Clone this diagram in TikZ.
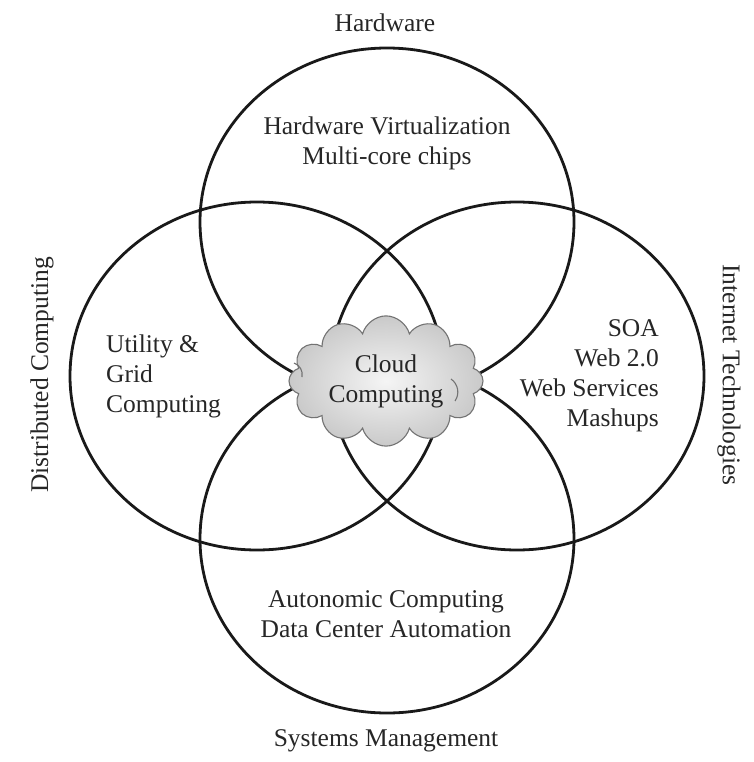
\documentclass[tikz,border=0pt]{standalone}
\usepackage{fontspec}
\setmainfont{Liberation Serif}
\usetikzlibrary{shapes.geometric,shapes.symbols}
\begin{document}
\begin{tikzpicture}[x=1pt,y=-1pt,
  ring/.style={draw=black!90, line width=2.8pt, ellipse, minimum width=374pt, minimum height=348pt, inner sep=0pt},
  lbl/.style={font=\fontsize{25.5}{30}\selectfont, text=black!85, inner sep=0pt},
  cloudbox/.style={cloud, cloud puffs=12, aspect=1.6, draw=black!55, line width=1.1pt,
     inner color=gray!8, outer color=gray!42, minimum width=194pt, minimum height=122pt, inner sep=0pt,
     font=\fontsize{25.5}{30}\selectfont, text=black!85, align=center},
  curl/.style={draw=black!55, line width=1.1pt}]
\useasboundingbox (0,0) rectangle (753,762);
\node[ring] (hw) at (387,222) {};
\node[ring] (dc) at (257,376) {};
\node[ring] (it) at (517,376) {};
\node[ring] (sm) at (387,539) {};
\node[cloudbox] (cc) at (386,381) {Cloud\\Computing};
\draw[curl] ([shift={(-92,-18)}]cc.center) to[bend left=40] ([shift={(-84,-4)}]cc.center);
\draw[curl] ([shift={(65,-2)}]cc.center) to[bend left=45] ([shift={(69,20)}]cc.center);
\node[lbl] (thw) at (385,23) {Hardware};
\node[lbl, align=center] (chw) at (387,143) {Hardware Virtualization\\Multi-core chips};
\node[lbl, align=left, anchor=west] (cdc) at (106,376) {Utility \&\\Grid\\Computing};
\node[lbl, align=right, anchor=east] (cit) at (659,376) {SOA\\Web 2.0\\Web Services\\Mashups};
\node[lbl, align=center] (csm) at (386,614) {Autonomic Computing\\Data Center Automation};
\node[lbl] (tsm) at (386,741) {Systems Management};
\node[lbl, rotate=90] (tdc) at (42,375) {Distributed Computing};
\node[lbl, rotate=-90] (tit) at (729,375) {Internet Technologies};
\end{tikzpicture}
\end{document}
